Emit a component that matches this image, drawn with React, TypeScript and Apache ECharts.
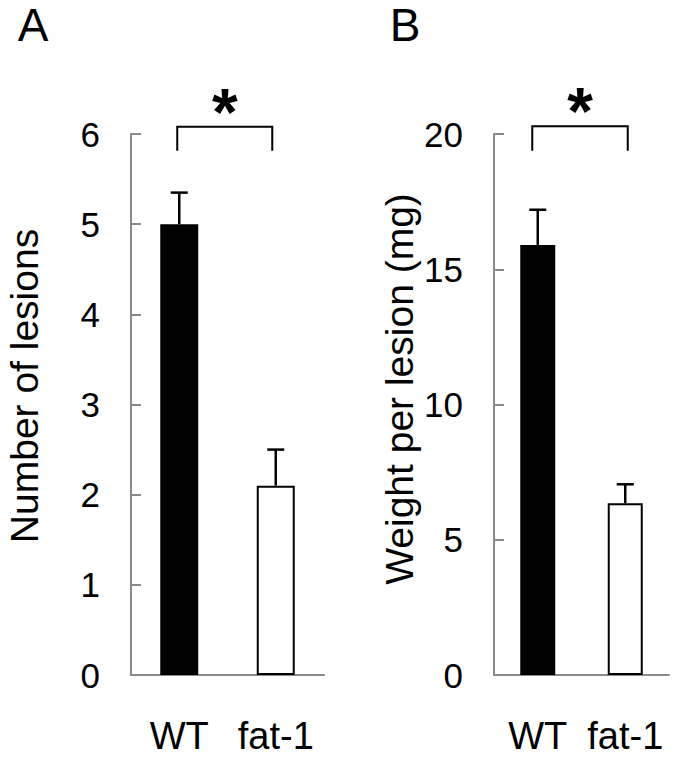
import React, { useEffect, useRef } from "react";
import * as echarts from "echarts";

const categories = ["WT", "fat-1"];
const lesionCount = [5.0, 2.1];
const lesionCountSem = [0.35, 0.4];
const lesionWeight = [15.9, 6.35];
const lesionWeightSem = [1.3, 0.7];
const countTicks = { min: 0, max: 6, interval: 1 };
const weightTicks = { min: 0, max: 20, interval: 5 };
// significance brackets: [leftCategory, rightCategory, topValue, legEndValue]
const bracketCount = [[0, 1, 6.08, 5.815]];
const bracketWeight = [[0, 1, 20.29, 19.38]];
const panelLabels = ["A", "B"];
const yTitles = ["Number of lesions", "Weight per lesion (mg)"];
const sigMark = "*";

const FONT = "'Liberation Sans', Arial, Helvetica, sans-serif";
const AXIS_GRAY = "#8a8a8a";

function errRender(params: any, api: any) {
  const i = api.value(0);
  const v = api.value(1);
  const e = api.value(2);
  const p0 = api.coord([i, v]);
  const p1 = api.coord([i, v + e]);
  const half = 8.5;
  return {
    type: "group",
    children: [
      { type: "line", shape: { x1: p0[0], y1: p0[1], x2: p1[0], y2: p1[1] }, style: { stroke: "#000", lineWidth: 2.5 } },
      { type: "line", shape: { x1: p1[0] - half, y1: p1[1], x2: p1[0] + half, y2: p1[1] }, style: { stroke: "#000", lineWidth: 2.5 } },
    ],
  };
}

function bracketRender(offL: number, offR: number) {
  return (params: any, api: any) => {
    const l = api.coord([api.value(0), api.value(2)]);
    const r = api.coord([api.value(1), api.value(2)]);
    const legY = api.coord([api.value(0), api.value(3)])[1];
    const xl = l[0] + offL;
    const xr = r[0] + offR;
    return {
      type: "group",
      children: [
        {
          type: "polyline",
          shape: { points: [[xl, legY], [xl, l[1]], [xr, l[1]], [xr, legY]] },
          style: { stroke: "#000", lineWidth: 2, fill: "none" },
        },
        {
          type: "text",
          x: (xl + xr) / 2,
          y: l[1] + 18,
          style: {
            text: sigMark,
            fontSize: 66,
            fontWeight: "bold",
            fontFamily: FONT,
            fill: "#000",
            textAlign: "center",
            textVerticalAlign: "bottom",
          },
        },
      ],
    };
  };
}

function yAxisCfg(gridIndex: number, t: { min: number; max: number; interval: number }) {
  return {
    type: "value",
    gridIndex,
    min: t.min,
    max: t.max,
    interval: t.interval,
    splitLine: { show: false },
    axisLine: { show: true, lineStyle: { color: AXIS_GRAY, width: 2 } },
    axisTick: { show: true, inside: true, length: 10, lineStyle: { color: AXIS_GRAY, width: 2 } },
    axisLabel: { color: "#000", fontSize: 35, fontFamily: FONT, margin: 31 },
  };
}

function xAxisCfg(gridIndex: number) {
  return {
    type: "category",
    gridIndex,
    data: categories,
    axisLine: { show: true, lineStyle: { color: AXIS_GRAY, width: 2 } },
    axisTick: { show: false },
    axisLabel: { color: "#000", fontSize: 38, fontFamily: FONT, margin: 42, interval: 0, hideOverlap: false },
  };
}

const barColors = ["#000000", "#ffffff"];

export default function App() {
  const ref = useRef<HTMLDivElement>(null);
  useEffect(() => {
    if (!ref.current) return;
    const chart = echarts.init(ref.current, null, { renderer: "svg" });
    const barData = (vals: number[]) =>
      vals.map((v, i) => ({ value: v, itemStyle: { color: barColors[i], borderColor: "#000", borderWidth: 2 } }));
    chart.setOption({
      animation: false,
      backgroundColor: "#ffffff",
      grid: [
        { left: 131, top: 134, width: 193, height: 541 },
        { left: 494, top: 134, width: 175, height: 541 },
      ],
      xAxis: [xAxisCfg(0), xAxisCfg(1)],
      yAxis: [yAxisCfg(0, countTicks), yAxisCfg(1, weightTicks)],
      series: [
        { type: "bar", xAxisIndex: 0, yAxisIndex: 0, barWidth: 38, data: barData(lesionCount) },
        { type: "bar", xAxisIndex: 1, yAxisIndex: 1, barWidth: 35, data: barData(lesionWeight) },
        {
          type: "custom", xAxisIndex: 0, yAxisIndex: 0, clip: false, encode: { x: 0, y: 1 },
          renderItem: errRender,
          data: categories.map((c, i) => [i, lesionCount[i], lesionCountSem[i]]),
          z: 5,
        },
        {
          type: "custom", xAxisIndex: 1, yAxisIndex: 1, clip: false, encode: { x: 0, y: 1 },
          renderItem: errRender,
          data: categories.map((c, i) => [i, lesionWeight[i], lesionWeightSem[i]]),
          z: 5,
        },
        {
          type: "custom", xAxisIndex: 0, yAxisIndex: 0, clip: false, encode: { x: 0, y: 2 },
          renderItem: bracketRender(-2, -3.5),
          data: bracketCount,
        },
        {
          type: "custom", xAxisIndex: 1, yAxisIndex: 1, clip: false, encode: { x: 0, y: 2 },
          renderItem: bracketRender(-5.5, 2.5),
          data: bracketWeight,
        },
      ],
      graphic: [
        { type: "text", x: 33, y: 25, style: { text: panelLabels[0], fontSize: 46, fontFamily: FONT, fill: "#000", textAlign: "center", textVerticalAlign: "middle" } },
        { type: "text", x: 405, y: 25, style: { text: panelLabels[1], fontSize: 46, fontFamily: FONT, fill: "#000", textAlign: "center", textVerticalAlign: "middle" } },
        { type: "text", x: 24, y: 386, rotation: Math.PI / 2, style: { text: yTitles[0], fontSize: 39, fontFamily: FONT, fill: "#000", textAlign: "center", textVerticalAlign: "middle" } },
        { type: "text", x: 399, y: 389, rotation: Math.PI / 2, style: { text: yTitles[1], fontSize: 39, fontFamily: FONT, fill: "#000", textAlign: "center", textVerticalAlign: "middle" } },
      ],
    });
    return () => chart.dispose();
  }, []);
  return (
    <div
      ref={ref}
      style={{ position: "fixed", left: 0, top: 0, width: 678, height: 762, background: "#fff" }}
    />
  );
}
